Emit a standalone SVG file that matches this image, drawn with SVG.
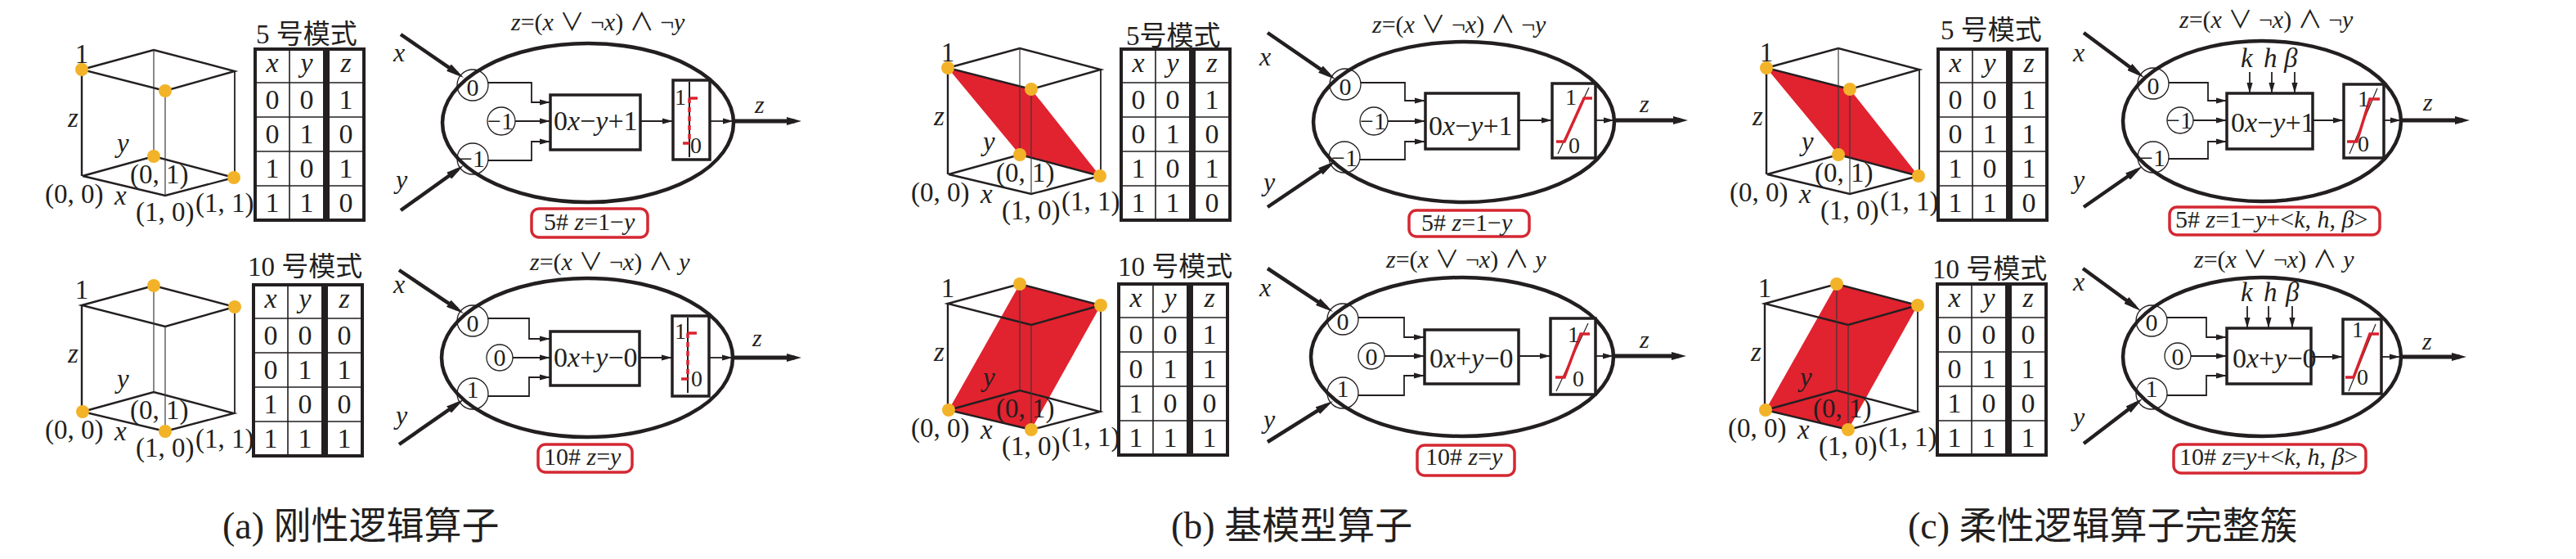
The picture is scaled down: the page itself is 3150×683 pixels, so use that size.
<svg xmlns="http://www.w3.org/2000/svg" xmlns:xlink="http://www.w3.org/1999/xlink" width="3150" height="683" viewBox="0 0 3150 683">
<style>
.t{font-family:"Liberation Serif","Noto Sans CJK SC",serif;fill:#231f20}
.i{font-style:italic}
.s28{font-size:28px}.s29{font-size:30px}.s30{font-size:30px}.s32{font-size:32px}.s33{font-size:33px}.s34{font-size:34px}.s46{font-size:46px}
.m{text-anchor:middle}
.ed{fill:none;stroke:#231f20;stroke-width:2.4}
.hd{fill:none;stroke:#3a3a3a;stroke-width:1.2}
.dot{fill:#F2B328}
.pl{fill:#E1222F}
.tb{fill:none;stroke:#231f20;stroke-width:4}
.gr{fill:none;stroke:#231f20;stroke-width:1.6}
.el{fill:none;stroke:#231f20;stroke-width:4.5}
.wc{fill:none;stroke:#231f20;stroke-width:1.3}
.bx{fill:#fff;stroke:#231f20;stroke-width:3.5}
.th{fill:#fff;stroke:#231f20;stroke-width:3.5}
.vl{fill:none;stroke:#231f20;stroke-width:2}
.dg{fill:none;stroke:#231f20;stroke-width:1.2}
.rs{fill:none;stroke:#D9222E;stroke-width:3.5}
.rd{fill:none;stroke:#D9222E;stroke-width:3.5;stroke-dasharray:6 5}
.lb{fill:#fff;stroke:#D42832;stroke-width:3.5}
.cn{fill:none;stroke:#231f20;stroke-width:1.8;marker-end:url(#ah)}
.inl{fill:none;stroke:#231f20;stroke-width:4.5;stroke-dasharray:90 20;marker-end:url(#ahB)}
.out{fill:none;stroke:#231f20;stroke-width:5;stroke-dasharray:90 20;marker-end:url(#ahO)}
</style>
<defs>
<marker id="ah" viewBox="0 0 10 10" refX="10" refY="5" markerWidth="13" markerHeight="8" markerUnits="userSpaceOnUse" orient="auto" preserveAspectRatio="none"><path d="M0,0.5 L10,5 L0,9.5 Z" fill="#231f20"/></marker>
<marker id="ahB" viewBox="0 0 10 10" refX="10" refY="5" markerWidth="22" markerHeight="10" markerUnits="userSpaceOnUse" orient="auto" preserveAspectRatio="none"><path d="M0,0 L10,5 L0,10 Z" fill="#231f20"/></marker>
<marker id="ahO" viewBox="0 0 10 10" refX="10" refY="5" markerWidth="18" markerHeight="10" markerUnits="userSpaceOnUse" orient="auto" preserveAspectRatio="none"><path d="M0,0 L10,5 L0,10 Z" fill="#231f20"/></marker>
<g id="cubeEdges">
<path class="ed" d="M100,85 L188,61 L287,87 L202,111 Z"/>
<path class="ed" d="M101,215 L188,191 L286,217 L202,239 Z"/>
<path class="ed" d="M100,85 V215"/>
<path class="hd" d="M188,61 V191"/>
<path class="ed" d="M287,87 V217" style="stroke-width:1.8"/>
<path class="hd" d="M202,111 V239"/>
</g>
<g id="cubeLabels" class="t s33">
<text class="m" x="100" y="77">1</text>
<text class="i" x="83" y="155">z</text>
<text class="i" x="143" y="186">y</text>
<text class="i" x="140" y="250">x</text>
<text x="55" y="248">(0, 0)</text>
<text x="159" y="224">(0, 1)</text>
<text x="166" y="270">(1, 0)</text>
<text x="239" y="259">(1, 1)</text>
</g>
<g id="tblBase">
<rect class="tb" x="312" y="60" width="85" height="209"/>
<rect class="tb" x="401" y="60" width="44" height="209"/>
<path class="gr" d="M354,60 V269 M312,101 H397 M312,143 H397 M312,185 H397 M312,227 H397 M401,101 H445 M401,143 H445 M401,185 H445 M401,227 H445"/>
<g class="t s34 m">
<text class="i" x="333" y="88">x</text><text class="i" x="375" y="88">y</text><text class="i" x="423" y="88">z</text>
<text x="333" y="133">0</text><text x="375" y="133">0</text>
<text x="333" y="175">0</text><text x="375" y="175">1</text>
<text x="333" y="217">1</text><text x="375" y="217">0</text>
<text x="333" y="259">1</text><text x="375" y="259">1</text>
</g>
</g>
</defs>

<!-- ===== Panel (a) ===== -->
<g id="cube-a5">
<use xlink:href="#cubeEdges"/>
<g class="dot"><circle cx="100" cy="85" r="8"/><circle cx="202" cy="111" r="8"/><circle cx="188" cy="191" r="8"/><circle cx="286" cy="217" r="8"/></g>
<use xlink:href="#cubeLabels"/>
</g>
<g id="cube-a10" transform="translate(0,288)">
<use xlink:href="#cubeEdges"/>
<g class="dot"><circle cx="101" cy="215" r="8"/><circle cx="188" cy="61" r="8"/><circle cx="202" cy="239" r="8"/><circle cx="287" cy="87" r="8"/></g>
<use xlink:href="#cubeLabels"/>
</g>
<g id="table-a5">
<text class="t s33" x="313" y="53">5 号模式</text>
<use xlink:href="#tblBase"/>
<g class="t s34 m"><text x="423" y="133">1</text><text x="423" y="175">0</text><text x="423" y="217">1</text><text x="423" y="259">0</text></g>
</g>
<g id="table-a10">
<text class="t s33" x="303" y="337">10 号模式</text>
<g transform="translate(-2,288)">
<use xlink:href="#tblBase"/>
<g class="t s34 m"><text x="423" y="133">0</text><text x="423" y="175">1</text><text x="423" y="217">0</text><text x="423" y="259">1</text></g>
</g>
</g>

<g id="unit-a5">
<text class="t s29" x="625" y="37"><tspan class="i">z</tspan>=(<tspan class="i">x</tspan> ∨ ¬<tspan class="i">x</tspan>) ∧ ¬<tspan class="i">y</tspan></text>
<ellipse class="el" cx="719" cy="150" rx="178" ry="97"/>
<text class="t s32 i" x="481" y="75">x</text>
<text class="t s32 i" x="484" y="230">y</text>
<circle class="wc" cx="578" cy="104" r="19"/><text class="t s30 m" x="578" y="117">0</text>
<circle class="wc" cx="613" cy="148" r="17"/><text class="t s30 m" x="612" y="158">−1</text>
<circle class="wc" cx="578" cy="194" r="19"/><text class="t s30 m" x="577" y="204">−1</text>
<rect class="bx" x="673" y="116" width="110" height="67"/>
<text class="t s34" x="677" y="159">0<tspan class="i">x</tspan>−<tspan class="i">y</tspan>+1</text>
<rect class="th" x="823" y="98" width="45" height="97"/>
<path class="vl" d="M843,100 V192"/>
<path class="rs" d="M843,120 H853 M835,175 H843"/>
<path class="rd" d="M843,120 V175"/>
<text class="t s28" x="825" y="128">1</text><text class="t s28" x="844" y="187">0</text>
<text class="t s30 i" x="923" y="138">z</text>
<rect class="lb" x="650" y="255" width="142" height="35" rx="9"/>
<text class="t s30" x="665" y="281">5# <tspan class="i">z</tspan>=1−<tspan class="i">y</tspan></text>
</g>

<g id="unit-a10">
<text class="t s29" x="648" y="330"><tspan class="i">z</tspan>=(<tspan class="i">x</tspan> ∨ ¬<tspan class="i">x</tspan>) ∧ <tspan class="i">y</tspan></text>
<ellipse class="el" cx="718" cy="437" rx="178" ry="97"/>
<text class="t s32 i" x="481" y="358">x</text>
<text class="t s32 i" x="484" y="518">y</text>
<circle class="wc" cx="578" cy="392" r="19"/><text class="t s30 m" x="578" y="405">0</text>
<circle class="wc" cx="611" cy="437" r="16"/><text class="t s30 m" x="611" y="447">0</text>
<circle class="wc" cx="578" cy="481" r="19"/><text class="t s30 m" x="578" y="486">1</text>
<rect class="bx" x="673" y="405" width="109" height="66"/>
<text class="t s34" x="677" y="448">0<tspan class="i">x</tspan>+<tspan class="i">y</tspan>−0</text>
<rect class="th" x="822" y="386" width="45" height="98"/>
<path class="vl" d="M841,388 V480"/>
<path class="rs" d="M841,407 H852 M833,463 H841"/>
<path class="rd" d="M841,407 V463"/>
<text class="t s28" x="825" y="414">1</text><text class="t s28" x="845" y="472">0</text>
<text class="t s30 i" x="920" y="423">z</text>
<rect class="lb" x="658" y="543" width="115" height="34" rx="9"/>
<text class="t s30" x="665" y="568">10# <tspan class="i">z</tspan>=<tspan class="i">y</tspan></text>
</g>

<!-- ===== Panel (b) ===== -->
<g id="cube-b5" transform="translate(1059,-2)">
<polygon class="pl" points="100,85 202,111 286,217 188,191"/>
<use xlink:href="#cubeEdges"/>
<g class="dot"><circle cx="100" cy="85" r="8"/><circle cx="202" cy="111" r="8"/><circle cx="188" cy="191" r="8"/><circle cx="286" cy="217" r="8"/></g>
<use xlink:href="#cubeLabels"/>
</g>
<g id="cube-b10" transform="translate(1059,286)">
<polygon class="pl" points="101,215 202,239 287,87 188,61"/>
<use xlink:href="#cubeEdges"/>
<g class="dot"><circle cx="101" cy="215" r="8"/><circle cx="188" cy="61" r="8"/><circle cx="202" cy="239" r="8"/><circle cx="287" cy="87" r="8"/></g>
<use xlink:href="#cubeLabels"/>
</g>
<g id="table-b5">
<text class="t s33" x="1377" y="55">5号模式</text>
<g transform="translate(1059,0)">
<use xlink:href="#tblBase"/>
<g class="t s34 m"><text x="423" y="133">1</text><text x="423" y="175">0</text><text x="423" y="217">1</text><text x="423" y="259">0</text></g>
</g>
</g>
<g id="table-b10">
<text class="t s33" x="1367" y="337">10 号模式</text>
<g transform="translate(1056,287)">
<use xlink:href="#tblBase"/>
<g class="t s34 m"><text x="423" y="133">1</text><text x="423" y="175">1</text><text x="423" y="217">0</text><text x="423" y="259">1</text></g>
</g>
</g>

<g id="unit-b5">
<text class="t s29" x="1678" y="40"><tspan class="i">z</tspan>=(<tspan class="i">x</tspan> ∨ ¬<tspan class="i">x</tspan>) ∧ ¬<tspan class="i">y</tspan></text>
<ellipse class="el" cx="1790" cy="149" rx="184" ry="98"/>
<text class="t s32 i" x="1540" y="80">x</text>
<text class="t s32 i" x="1545" y="233">y</text>
<circle class="wc" cx="1645" cy="103" r="19"/><text class="t s30 m" x="1645" y="116">0</text>
<circle class="wc" cx="1680" cy="148" r="17"/><text class="t s30 m" x="1679" y="158">−1</text>
<circle class="wc" cx="1644" cy="192" r="19"/><text class="t s30 m" x="1644" y="203">−1</text>
<rect class="bx" x="1743" y="114" width="114" height="68"/>
<text class="t s34" x="1747" y="165">0<tspan class="i">x</tspan>−<tspan class="i">y</tspan>+1</text>
<rect class="th" x="1898" y="102" width="53" height="91"/>
<path class="dg" d="M1905,188 L1943,107"/>
<path class="rs" d="M1903,173 H1913 L1937,120 H1947"/>
<text class="t s28" x="1914" y="128">1</text><text class="t s28" x="1918" y="187">0</text>
<text class="t s30 i" x="2005" y="137">z</text>
<rect class="lb" x="1723" y="257" width="147" height="32" rx="9"/>
<text class="t s30" x="1738" y="282">5# <tspan class="i">z</tspan>=1−<tspan class="i">y</tspan></text>
</g>

<g id="unit-b10">
<text class="t s29" x="1695" y="327"><tspan class="i">z</tspan>=(<tspan class="i">x</tspan> ∨ ¬<tspan class="i">x</tspan>) ∧ <tspan class="i">y</tspan></text>
<ellipse class="el" cx="1788" cy="436" rx="185" ry="97"/>
<text class="t s32 i" x="1540" y="362">x</text>
<text class="t s32 i" x="1545" y="523">y</text>
<circle class="wc" cx="1642" cy="390" r="19"/><text class="t s30 m" x="1642" y="403">0</text>
<circle class="wc" cx="1677" cy="435" r="16"/><text class="t s30 m" x="1677" y="446">0</text>
<circle class="wc" cx="1642" cy="480" r="19"/><text class="t s30 m" x="1642" y="485">1</text>
<rect class="bx" x="1742" y="403" width="115" height="66"/>
<text class="t s34" x="1748" y="449">0<tspan class="i">x</tspan>+<tspan class="i">y</tspan>−0</text>
<rect class="th" x="1896" y="389" width="55" height="93"/>
<path class="dg" d="M1903,478 L1942,395"/>
<path class="rs" d="M1902,461 H1913 L1933,408 H1944"/>
<text class="t s28" x="1917" y="418">1</text><text class="t s28" x="1923" y="472">0</text>
<text class="t s30 i" x="2005" y="425">z</text>
<rect class="lb" x="1733" y="544" width="119" height="37" rx="9"/>
<text class="t s30" x="1743" y="568">10# <tspan class="i">z</tspan>=<tspan class="i">y</tspan></text>
</g>

<!-- ===== Panel (c) ===== -->
<g id="cube-c5" transform="translate(2060,-2)">
<polygon class="pl" points="100,85 202,111 286,217 188,191"/>
<use xlink:href="#cubeEdges"/>
<g class="dot"><circle cx="100" cy="85" r="8"/><circle cx="202" cy="111" r="8"/><circle cx="188" cy="191" r="8"/><circle cx="286" cy="217" r="8"/></g>
<use xlink:href="#cubeLabels"/>
</g>
<g id="cube-c10" transform="translate(2058,286)">
<polygon class="pl" points="101,215 202,239 287,87 188,61"/>
<use xlink:href="#cubeEdges"/>
<g class="dot"><circle cx="101" cy="215" r="8"/><circle cx="188" cy="61" r="8"/><circle cx="202" cy="239" r="8"/><circle cx="287" cy="87" r="8"/></g>
<use xlink:href="#cubeLabels"/>
</g>
<g id="table-c5">
<text class="t s33" x="2373" y="48">5 号模式</text>
<g transform="translate(2058,0)">
<use xlink:href="#tblBase"/>
<g class="t s34 m"><text x="423" y="133">1</text><text x="423" y="175">1</text><text x="423" y="217">1</text><text x="423" y="259">0</text></g>
</g>
</g>
<g id="table-c10">
<text class="t s33" x="2363" y="340">10 号模式</text>
<g transform="translate(2057,287)">
<use xlink:href="#tblBase"/>
<g class="t s34 m"><text x="423" y="133">0</text><text x="423" y="175">1</text><text x="423" y="217">0</text><text x="423" y="259">1</text></g>
</g>
</g>

<g id="unit-c5">
<text class="t s29" x="2665" y="34"><tspan class="i">z</tspan>=(<tspan class="i">x</tspan> ∨ ¬<tspan class="i">x</tspan>) ∧ ¬<tspan class="i">y</tspan></text>
<ellipse class="el" cx="2766" cy="148" rx="170" ry="98"/>
<text class="t s32 i" x="2535" y="75">x</text>
<text class="t s32 i" x="2535" y="230">y</text>
<text class="t s33 i" x="2740" y="82">k</text><text class="t s33 i" x="2768" y="82">h</text><text class="t s33 i" x="2793" y="82">β</text>
<circle class="wc" cx="2633" cy="102" r="19"/><text class="t s30 m" x="2633" y="115">0</text>
<circle class="wc" cx="2666" cy="147" r="16"/><text class="t s30 m" x="2665" y="157">−1</text>
<circle class="wc" cx="2633" cy="192" r="19"/><text class="t s30 m" x="2632" y="203">−1</text>
<rect class="bx" x="2723" y="114" width="105" height="68"/>
<text class="t s34" x="2728" y="161">0<tspan class="i">x</tspan>−<tspan class="i">y</tspan>+1</text>
<rect class="th" x="2866" y="103" width="49" height="90"/>
<path class="dg" d="M2873,188 L2907,108"/>
<path class="rs" d="M2870,173 H2882 L2898,121 H2910"/>
<text class="t s28" x="2883" y="130">1</text><text class="t s28" x="2883" y="185">0</text>
<text class="t s30 i" x="2963" y="135">z</text>
<rect class="lb" x="2653" y="253" width="257" height="34" rx="9"/>
<text class="t s30" x="2660" y="278">5# <tspan class="i">z</tspan>=1−<tspan class="i">y</tspan>+&lt;<tspan class="i">k</tspan>, <tspan class="i">h</tspan>, <tspan class="i">β</tspan>&gt;</text>
</g>

<g id="unit-c10">
<text class="t s29" x="2683" y="327"><tspan class="i">z</tspan>=(<tspan class="i">x</tspan> ∨ ¬<tspan class="i">x</tspan>) ∧ <tspan class="i">y</tspan></text>
<ellipse class="el" cx="2766" cy="436" rx="170" ry="97"/>
<text class="t s32 i" x="2535" y="355">x</text>
<text class="t s32 i" x="2535" y="520">y</text>
<text class="t s33 i" x="2740" y="368">k</text><text class="t s33 i" x="2768" y="368">h</text><text class="t s33 i" x="2795" y="368">β</text>
<circle class="wc" cx="2631" cy="392" r="19"/><text class="t s30 m" x="2631" y="404">0</text>
<circle class="wc" cx="2663" cy="435" r="16"/><text class="t s30 m" x="2663" y="446">0</text>
<circle class="wc" cx="2631" cy="481" r="19"/><text class="t s30 m" x="2631" y="485">1</text>
<rect class="bx" x="2723" y="401" width="103" height="68"/>
<text class="t s34" x="2730" y="449">0<tspan class="i">x</tspan>+<tspan class="i">y</tspan>−0</text>
<rect class="th" x="2865" y="390" width="47" height="91"/>
<path class="dg" d="M2872,478 L2905,396"/>
<path class="rs" d="M2868,461 H2878 L2898,408 H2909"/>
<text class="t s28" x="2876" y="412">1</text><text class="t s28" x="2882" y="470">0</text>
<text class="t s30 i" x="2962" y="427">z</text>
<rect class="lb" x="2658" y="543" width="235" height="35" rx="9"/>
<text class="t s30" x="2665" y="568">10# <tspan class="i">z</tspan>=<tspan class="i">y</tspan>+&lt;<tspan class="i">k</tspan>, <tspan class="i">h</tspan>, <tspan class="i">β</tspan>&gt;</text>
</g>

<!-- ===== Connectors ===== -->
<g id="connectors">
<!-- a5 -->
<path class="inl" pathLength="100" d="M490,42 L567,95"/>
<path class="inl" pathLength="100" d="M490,257 L567,202"/>
<path class="cn" d="M597,101 H650 V125 H673"/>
<path class="cn" d="M630,148 H673"/>
<path class="cn" d="M597,196 H650 V173 H673"/>
<path class="cn" d="M783,148 H823"/>
<path class="cn" d="M868,148 H897"/>
<path class="out" pathLength="100" d="M897,148 H980"/>
<!-- a10 -->
<path class="inl" pathLength="100" d="M488,330 L567,383"/>
<path class="inl" pathLength="100" d="M488,543 L567,488"/>
<path class="cn" d="M597,389 H647 V414 H673"/>
<path class="cn" d="M627,437 H673"/>
<path class="cn" d="M597,484 H647 V461 H673"/>
<path class="cn" d="M782,437 H822"/>
<path class="cn" d="M867,437 H896"/>
<path class="out" pathLength="100" d="M896,437 H980"/>
<!-- b5 -->
<path class="inl" pathLength="100" d="M1550,40 L1633,97"/>
<path class="inl" pathLength="100" d="M1550,253 L1633,197"/>
<path class="cn" d="M1664,101 H1718 V123 H1743"/>
<path class="cn" d="M1697,148 H1743"/>
<path class="cn" d="M1663,195 H1718 V173 H1743"/>
<path class="cn" d="M1857,147 H1898"/>
<path class="cn" d="M1951,147 H1974"/>
<path class="out" pathLength="100" d="M1974,147 H2064"/>
<!-- b10 -->
<path class="inl" pathLength="100" d="M1550,328 L1630,381"/>
<path class="inl" pathLength="100" d="M1550,540 L1630,490"/>
<path class="cn" d="M1661,388 H1717 V412 H1742"/>
<path class="cn" d="M1693,435 H1742"/>
<path class="cn" d="M1661,483 H1717 V459 H1742"/>
<path class="cn" d="M1857,435 H1896"/>
<path class="cn" d="M1951,435 H1973"/>
<path class="out" pathLength="100" d="M1973,435 H2062"/>
<!-- c5 -->
<path class="inl" pathLength="100" d="M2548,40 L2622,95"/>
<path class="inl" pathLength="100" d="M2548,253 L2620,203"/>
<path class="cn" d="M2751,88 V114"/>
<path class="cn" d="M2778,88 V114"/>
<path class="cn" d="M2806,88 V114"/>
<path class="cn" d="M2652,101 H2700 V123 H2723"/>
<path class="cn" d="M2682,147 H2723"/>
<path class="cn" d="M2652,194 H2700 V173 H2723"/>
<path class="cn" d="M2828,147 H2866"/>
<path class="cn" d="M2915,147 H2936"/>
<path class="out" pathLength="100" d="M2936,147 H3020"/>
<!-- c10 -->
<path class="inl" pathLength="100" d="M2547,328 L2618,380"/>
<path class="inl" pathLength="100" d="M2548,542 L2620,487"/>
<path class="cn" d="M2748,374 V401"/>
<path class="cn" d="M2774,374 V401"/>
<path class="cn" d="M2803,374 V401"/>
<path class="cn" d="M2650,388 H2698 V412 H2723"/>
<path class="cn" d="M2679,435 H2723"/>
<path class="cn" d="M2650,483 H2698 V459 H2723"/>
<path class="cn" d="M2826,436 H2865"/>
<path class="cn" d="M2912,436 H2935"/>
<path class="out" pathLength="100" d="M2935,436 H3016"/>
</g>

<!-- ===== Captions ===== -->
<g id="captions" class="t s46">
<text x="272" y="658">(a) 刚性逻辑算子</text>
<text x="1432" y="658">(b) 基模型算子</text>
<text x="2333" y="658">(c) 柔性逻辑算子完整簇</text>
</g>
</svg>
